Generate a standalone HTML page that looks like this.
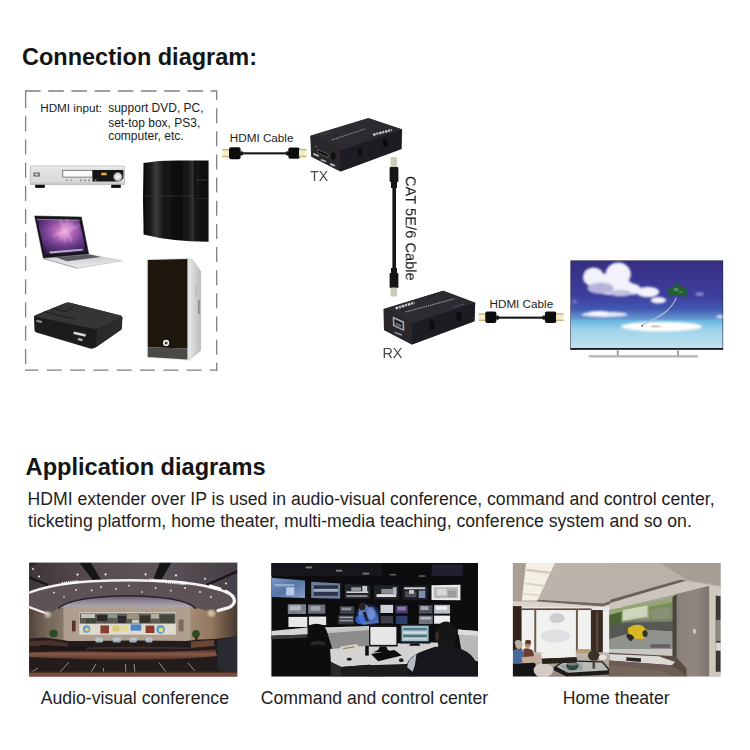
<!DOCTYPE html>
<html lang="en">
<head>
<meta charset="utf-8">
<title>Connection diagram</title>
<style>
html,body{margin:0;padding:0;background:#fff;}
body{width:750px;height:750px;overflow:hidden;position:relative;font-family:"Liberation Sans",Arial,sans-serif;color:#111;}
.t{position:absolute;white-space:nowrap;line-height:1;}
h1.t,h2.t{margin:0;font-weight:bold;font-size:23px;color:#141414;}
.s12{font-size:12px;color:#1c1c1c;}
.lab{font-size:14px;color:#484848;transform:translateZ(0);}
.body{font-size:17.65px;color:#1e1e1e;}
#art{position:absolute;left:0;top:0;width:750px;height:750px;}
</style>
</head>
<body>
<svg id="art" width="750" height="750" viewBox="0 0 750 750">
<defs>
  <filter id="b03" x="-5%" y="-5%" width="110%" height="110%"><feGaussianBlur stdDeviation="0.35"/></filter>
  <filter id="b05" x="-5%" y="-5%" width="110%" height="110%"><feGaussianBlur stdDeviation="0.5"/></filter>
  <filter id="b08" x="-5%" y="-5%" width="110%" height="110%"><feGaussianBlur stdDeviation="0.8"/></filter>
  <filter id="b15" x="-10%" y="-10%" width="120%" height="120%"><feGaussianBlur stdDeviation="1.5"/></filter>
  <filter id="b30" x="-20%" y="-20%" width="140%" height="140%"><feGaussianBlur stdDeviation="3"/></filter>
  <linearGradient id="gold" x1="0" y1="0" x2="0" y2="1">
    <stop offset="0" stop-color="#b09858"/><stop offset="0.2" stop-color="#ece4b0"/><stop offset="0.5" stop-color="#f6f2d8"/><stop offset="0.8" stop-color="#ece4b0"/><stop offset="1" stop-color="#b09858"/>
  </linearGradient>
</defs>
<!-- dashed input group box -->
<g fill="none" stroke="#808080" stroke-width="1.3">
  <path d="M25,91 H216.7" stroke-dasharray="15.6 7.6" stroke-dashoffset="0"/>
  <path d="M216.7,90.4 V370.8" stroke-dasharray="15 8.15" stroke-dashoffset="5.4"/>
  <path d="M25,370.2 H217.2" stroke-dasharray="15 8.3" stroke-dashoffset="1.5"/>
  <path d="M25.6,90.5 V93" />
  <path d="M25.6,92.9 V370.2" stroke-dasharray="15 8.28"/>
</g>

<!-- HDMI cable 1 -->
<g filter="url(#b03)">
  <rect x="222.2" y="149" width="8" height="8.2" fill="url(#gold)"/>
  <rect x="229" y="147.2" width="11.6" height="12" rx="2" fill="#111"/>
  <rect x="240" y="152.3" width="49" height="2.1" fill="#151515"/>
  <rect x="240" y="151.3" width="3" height="4.1" rx="1.2" fill="#151515"/><rect x="286" y="151.3" width="3" height="4.1" rx="1.2" fill="#151515"/>
  <rect x="288.3" y="147.4" width="11.5" height="11.4" rx="2" fill="#111"/>
  <rect x="299" y="149" width="7.5" height="8.2" fill="url(#gold)"/>
</g>
<!-- HDMI cable 2 -->
<g filter="url(#b03)">
  <rect x="478.8" y="313.3" width="7.5" height="7.6" fill="url(#gold)"/>
  <rect x="485.2" y="311.5" width="11.2" height="11.4" rx="2" fill="#111"/>
  <rect x="496" y="316.6" width="49.5" height="2.1" fill="#151515"/>
  <rect x="496" y="315.6" width="3" height="4.1" rx="1.2" fill="#151515"/><rect x="542.4" y="315.6" width="3" height="4.1" rx="1.2" fill="#151515"/>
  <rect x="544.9" y="311.5" width="11.5" height="11.4" rx="2" fill="#111"/>
  <rect x="556" y="313.3" width="7.6" height="7.6" fill="url(#gold)"/>
</g>
<!-- CAT cable -->
<g filter="url(#b03)">
  <rect x="390.6" y="157" width="6.4" height="10.5" rx="0.8" fill="#c9ccbb"/>
  <rect x="389.6" y="167" width="8.8" height="15" rx="1" fill="#141414"/>
  <rect x="391" y="181" width="6" height="7" fill="#141414"/>
  <rect x="392.4" y="187" width="3.6" height="83" fill="#151515"/>
  <rect x="391" y="268" width="6" height="6" fill="#141414"/>
  <rect x="389.6" y="273" width="8.8" height="15" rx="1" fill="#141414"/>
  <rect x="390.6" y="287.5" width="6.4" height="9" rx="0.8" fill="#c9ccbb"/>
</g>
<!-- TX box -->
<g filter="url(#b03)">
  <polygon points="310.7,136 368.4,118.4 401.7,129.6 401.2,148.8 340.6,171.2 311.6,156.4" fill="#242228" stroke="#242228" stroke-width="0.8" stroke-linejoin="round"/>
  <polygon points="310.7,136 368.4,118.4 401.7,129.6 340.4,150.4" fill="#2d2a31"/>
  <polygon points="310.7,136 340.4,150.4 340.6,171.2 311.6,156.4" fill="#29272c"/>
  <polygon points="340.4,150.4 401.7,129.6 401.2,148.8 340.6,171.2" fill="#1e1c22"/>
  <g transform="translate(300,110) scale(0.13333)">
    <path d="M236,226 L490,141" stroke="#b9b9c0" stroke-width="9" stroke-dasharray="7 5" opacity="0.75" fill="none"/>
    <path d="M160,186 L232,163" stroke="#8c8c94" stroke-width="5" stroke-dasharray="5 4" opacity="0.6" fill="none"/>
    <path d="M548,186 L688,150" stroke="#e8e8ee" stroke-width="17" stroke-dasharray="20 6 14 6" opacity="0.85" fill="none"/>
    <rect x="432" y="288" width="34" height="54" rx="8" fill="#0b0a0d"/>
    <rect x="624" y="220" width="32" height="58" rx="8" fill="#0b0a0d"/>
    <polygon points="132,296 212,332 210,356 134,320" fill="#0a0a0c" stroke="#77757c" stroke-width="5"/>
    <ellipse cx="250" cy="344" rx="17" ry="28" fill="#0b0b0d"/>
    <circle cx="119" cy="275" r="6" fill="#6c6a70"/>
    <polygon points="100,322 140,338 140,352 100,336" fill="#d8d8de" opacity="0.85"/>
    <polygon points="156,366 196,380 196,392 156,378" fill="#cfcfd6" opacity="0.8"/>
    <polygon points="226,398 262,410 262,424 226,412" fill="#d8d8de" opacity="0.85"/>
  </g>
</g>
<!-- RX box -->
<g filter="url(#b03)">
  <polygon points="383.7,308.9 443.2,290.8 475.2,302.8 474.4,321.2 412,344.6 384,330" fill="#242228"/>
  <polygon points="383.7,308.9 443.2,290.8 475.2,302.8 412,323.6" fill="#2d2a31"/>
  <polygon points="383.7,308.9 412,323.6 412,344.6 384,330" fill="#29272c"/>
  <polygon points="412,323.6 475.2,302.8 474.4,321.2 412,344.6" fill="#1e1c22"/>
  <g transform="translate(360,270) scale(0.16)">
    <path d="M286,262 L590,180" stroke="#c4c4ca" stroke-width="8" stroke-dasharray="7 5" opacity="0.75" fill="none"/>
    <path d="M222,240 L340,204" stroke="#e8e8ee" stroke-width="15" stroke-dasharray="18 5 12 5" opacity="0.85" fill="none"/>
    <path d="M580,232 L650,212" stroke="#8c8c94" stroke-width="5" opacity="0.5" fill="none"/>
    <rect x="436" y="318" width="30" height="56" rx="8" fill="#0b0a0d"/>
    <rect x="604" y="262" width="30" height="56" rx="8" fill="#0b0a0d"/>
    <polygon points="204,290 276,322 276,382 206,350" fill="#a8a8ae"/>
    <polygon points="214,306 266,330 266,368 216,344" fill="#1c1c20"/>
    <polygon points="222,326 258,342 258,360 224,346" fill="#5c6c70"/>
    <polygon points="216,384 262,402 262,412 216,394" fill="#c0c0c6" opacity="0.7"/>
  </g>
</g>
<!-- TV -->
<defs>
  <linearGradient id="sky" x1="0" y1="0" x2="0" y2="1">
    <stop offset="0" stop-color="#362e82"/>
    <stop offset="0.4" stop-color="#3e3e9e"/>
    <stop offset="0.55" stop-color="#4258b0"/>
    <stop offset="0.66" stop-color="#6496d0"/>
    <stop offset="0.685" stop-color="#6ab6e0"/>
    <stop offset="0.8" stop-color="#a2d4ea"/>
    <stop offset="1" stop-color="#c2e0ee"/>
  </linearGradient>
  <clipPath id="tvclip"><rect x="570.6" y="260.6" width="151" height="87"/></clipPath>
</defs>
<g filter="url(#b03)" transform="translate(570.4,260.4) scale(1.005,1.006) translate(-570,-260)">
  <rect x="570" y="260" width="152" height="88.6" fill="#20244a"/>
  <rect x="570.6" y="260.6" width="150.8" height="86.6" fill="url(#sky)"/>
  <g clip-path="url(#tvclip)">
    <g filter="url(#b08)" fill="#f2f2fa">
      <ellipse cx="593" cy="276.5" rx="10.5" ry="9.5"/>
      <ellipse cx="617.6" cy="273.6" rx="12.5" ry="11.5"/>
      <ellipse cx="606" cy="281" rx="10" ry="8"/>
      <ellipse cx="612" cy="286" rx="21" ry="8.5"/>
      <ellipse cx="631" cy="288.6" rx="9" ry="5.6"/>
      <ellipse cx="600" cy="287.6" rx="13" ry="5.6" fill="#b4b4dc"/>
      <ellipse cx="620" cy="292.6" rx="11" ry="3.4" fill="#c0c0e2"/>
      <ellipse cx="647" cy="291.4" rx="11.5" ry="5.2"/>
      <ellipse cx="657.6" cy="299.6" rx="7.6" ry="3.2"/>
      <ellipse cx="604" cy="313.8" rx="23" ry="2.7" fill="#e2e8f8"/>
      <ellipse cx="598" cy="312.4" rx="10" ry="2.2" fill="#fafaff"/>
      <ellipse cx="660.8" cy="325.8" rx="40.5" ry="4.9" fill="#fdfdfb"/>
      <ellipse cx="719" cy="316" rx="4" ry="1.4" fill="#dfe8f8"/>
      <ellipse cx="698.6" cy="293.4" rx="4.2" ry="1.8" fill="#8e90d0"/>
      <ellipse cx="574" cy="301" rx="3" ry="1.4" fill="#7a80c8"/>
    </g>
    <g filter="url(#b05)">
      <path d="M641.2,324.6 C652,318 668,314 675.6,297" fill="none" stroke="#b4bcd4" stroke-width="1.2"/>
      <g fill="#245e30">
        <ellipse cx="676.6" cy="290.6" rx="6" ry="4.4"/>
        <ellipse cx="671" cy="289" rx="4.6" ry="2.2" transform="rotate(-20 671 289)"/>
        <ellipse cx="682" cy="288.6" rx="4.6" ry="2.2" transform="rotate(20 682 288.6)"/>
        <ellipse cx="676" cy="286" rx="2.4" ry="4" transform="rotate(10 676 286)"/>
        <ellipse cx="682.6" cy="293.4" rx="4.4" ry="2" transform="rotate(28 682.6 293.4)"/>
        <ellipse cx="670.6" cy="293.4" rx="4" ry="1.8" transform="rotate(-30 670.6 293.4)"/>
      </g>
      <ellipse cx="675" cy="289" rx="2.6" ry="1.8" fill="#4c9050"/>
      <ellipse cx="679.6" cy="291.6" rx="2" ry="1.4" fill="#3c8044"/>
      <ellipse cx="655" cy="325.6" rx="5" ry="1.2" fill="#d4cdb8"/>
      <circle cx="641.4" cy="325" r="0.9" fill="#4a4a40"/>
    </g>
  </g>
  <rect x="570" y="347.2" width="152" height="1.5" fill="#15151c"/>
  <rect x="616.2" y="348.6" width="1.8" height="7" fill="#9a9aa0"/>
  <rect x="676.2" y="348.6" width="1.8" height="7" fill="#9a9aa0"/>
  <rect x="588" y="354.3" width="109" height="2.2" rx="1.1" fill="#b4b4b8" filter="url(#b05)"/>
</g>
<!-- DVD player -->
<defs>
  <linearGradient id="dvdg" x1="0" y1="0" x2="0" y2="1">
    <stop offset="0" stop-color="#f4f4f4"/><stop offset="0.15" stop-color="#e2e2e2"/><stop offset="0.8" stop-color="#dcdcdc"/><stop offset="1" stop-color="#c4c4c4"/>
  </linearGradient>
  <linearGradient id="ps3g" x1="0" y1="0" x2="1" y2="0">
    <stop offset="0" stop-color="#0c0c0c"/><stop offset="0.1" stop-color="#161616"/><stop offset="0.2" stop-color="#3c3c3c"/>
    <stop offset="0.3" stop-color="#1a1a1a"/><stop offset="0.55" stop-color="#0a0a0a"/><stop offset="0.7" stop-color="#1c1c1c"/>
    <stop offset="0.76" stop-color="#333"/><stop offset="0.8" stop-color="#151515"/><stop offset="1" stop-color="#0b0b0b"/>
  </linearGradient>
  <radialGradient id="lapg" cx="0.55" cy="0.35" r="0.7">
    <stop offset="0" stop-color="#eaa8dc"/><stop offset="0.25" stop-color="#b868b8"/><stop offset="0.6" stop-color="#6c3c8c"/><stop offset="1" stop-color="#2e1c4e"/>
  </radialGradient>
  <linearGradient id="pcside" x1="0" y1="0" x2="1" y2="0">
    <stop offset="0" stop-color="#ececec"/><stop offset="0.5" stop-color="#d2d2d2"/><stop offset="1" stop-color="#bcbcbc"/>
  </linearGradient>
  <linearGradient id="lapbase" x1="0" y1="0" x2="0" y2="1">
    <stop offset="0" stop-color="#c8c8cc"/><stop offset="1" stop-color="#ececee"/>
  </linearGradient>
</defs>
<g filter="url(#b03)">
  <rect x="30.2" y="166" width="94.4" height="18.6" rx="0.8" fill="url(#dvdg)" stroke="#a4a4a4" stroke-width="0.6"/>
  <rect x="35.2" y="184.8" width="9.6" height="3.1" fill="#111"/>
  <rect x="111.2" y="184.8" width="9.6" height="3.1" fill="#111"/>
  <rect x="33.6" y="172.6" width="6.2" height="3.9" fill="#555"/>
  <rect x="34.8" y="173.6" width="3.8" height="1.9" fill="#d8d8d8"/>
  <rect x="62.8" y="170.3" width="30" height="6.8" fill="#fafafa" stroke="#555" stroke-width="0.7"/>
  <path d="M92.5,170 H123.4 V178 Q121,181.6 116,181.6 H92.5 Z" fill="#121212"/>
  <rect x="101.2" y="172.7" width="5.4" height="2.6" fill="#e8b040"/>
  <circle cx="117.8" cy="176.8" r="4.3" fill="#d4d4d4" stroke="#777" stroke-width="0.6"/>
  <circle cx="117.8" cy="176.8" r="2" fill="#f4f4f4"/>
  <g fill="#8a8a8a"><rect x="66" y="179.4" width="1.4" height="1.6"/><rect x="70.3" y="179.4" width="1.4" height="1.6"/><rect x="79.8" y="179.4" width="1.6" height="2"/><rect x="84.2" y="179.4" width="1.6" height="2"/><rect x="88.2" y="179.4" width="1.6" height="2"/><rect x="94.8" y="179.4" width="1.6" height="2"/></g>
</g>
<!-- PS3 -->
<g filter="url(#b03)">
  <path d="M143.5,163 Q160,160.4 178,160.6 L208.6,160.6 L208.6,241.8 Q170,241.5 143.6,234.6 Q142.4,199 143.5,163 Z" fill="url(#ps3g)"/>
  <rect x="143.4" y="195.6" width="51" height="0.9" fill="#3a3a3a" opacity="0.8"/>
  <rect x="194" y="161" width="0.8" height="37" fill="#000" opacity="0.8"/>
  <rect x="194.4" y="198" width="14" height="0.8" fill="#2c2c2c"/>
  <rect x="196" y="179.6" width="11" height="0.8" fill="#555" opacity="0.7"/>
</g>
<!-- laptop -->
<g filter="url(#b03)">
  <polygon points="43.3,258 88.7,254 122.7,260.2 77.3,267.6" fill="url(#lapbase)"/>
  <polygon points="43.3,258 77.3,267.6 77.3,268.8 43.6,259.2" fill="#a8a8ac"/>
  <polygon points="77.3,267.6 122.7,260.2 122.7,261.2 77.3,268.8" fill="#cdcdd0"/>
  <polygon points="56,257.2 90,254.6 101,257 67,261.2" fill="#5a5a60"/>
  <polygon points="34.7,216 81.3,217.1 88.7,254 43.3,258" fill="#17141c" stroke="#17141c" stroke-width="0.5" stroke-linejoin="round"/>
  <polygon points="37.1,218.9 79.3,219.7 86,251.4 45,254.7" fill="url(#lapg)"/>
  <g opacity="0.4" fill="#f6c8ee" filter="url(#b08)">
    <ellipse cx="66" cy="231" rx="2.2" ry="12" transform="rotate(8 66 231)"/>
    <ellipse cx="66" cy="231" rx="2" ry="12" transform="rotate(38 66 231)"/>
    <ellipse cx="66" cy="231" rx="2" ry="13" transform="rotate(-28 66 231)"/>
    <ellipse cx="66" cy="231" rx="2" ry="14" transform="rotate(68 66 231)"/>
  </g>
  <polygon points="37.1,218.9 79.3,219.7 79.5,220.7 37.3,219.9" fill="#c0b0d0" opacity="0.6"/>
  <polygon points="49.4,251.6 82.6,248.8 83,250.6 49.8,253.6" fill="#cfc8dc" opacity="0.85"/>
</g>
<!-- set top box -->
<g filter="url(#b03)">
  <path d="M34,317.2 Q33.6,315.8 36,315 L65.5,303 Q67.5,302.2 70,302.8 L120.5,315.6 Q122.6,316.2 122.4,318 L121.8,328 Q121.6,329.6 120,330.6 L95.5,347.6 Q93,349.2 90,348.6 L36.5,332.6 Q34.6,332 34.5,330 Z" fill="#1b1b1c"/>
  <path d="M34.2,316.6 Q34,315.6 36,314.9 L65.5,303 Q67.5,302.2 70,302.8 L120.5,315.6 Q122.6,316.2 121.5,317.2 L98,328.8 Q96.5,329.4 94.5,329 Z" fill="#343436"/>
  <path d="M97.2,329.2 L122.2,317 L121.8,328 Q121.6,329.6 120,330.6 L95.5,347.6 Z" fill="#2a2a2b"/>
  <path d="M44,311.6 L75,319.2 M52,308.4 L66,311.6 L74,306" fill="none" stroke="#1c1c1c" stroke-width="0.9"/>
  <rect x="73.4" y="332.6" width="12.4" height="2.6" fill="#d8d8d8" transform="rotate(13 79 334)"/>
  <rect x="78" y="338.4" width="4.6" height="2.2" fill="#bbb" transform="rotate(13 80 339)"/>
  <rect x="36.4" y="320.2" width="5.6" height="2.2" fill="#888" transform="rotate(15 39 321)"/>
</g>
<!-- PC tower -->
<g filter="url(#b03)">
  <polygon points="188,258.4 192.5,259.6 200.8,271.5 200.8,350.6 188.2,360.4" fill="url(#pcside)" stroke="#b4b4b4" stroke-width="0.5"/>
  <polygon points="146.6,259 188.4,258 188.4,360.6 146.6,357.8" fill="#e4e4e4"/>
  <polygon points="147.8,259.9 187.4,259 187.4,348.4 147.8,347.2" fill="#1b1311"/>
  <polygon points="147.8,347.2 187.4,348.4 187.4,359.6 147.8,357" fill="#4a4844"/>
  <circle cx="166.1" cy="342.9" r="3.1" fill="#f4f4f4"/>
  <circle cx="166.1" cy="342.9" r="1.5" fill="#333"/>
  <rect x="198" y="300" width="1.6" height="14" fill="#888"/>
  <rect x="195.6" y="285" width="1" height="12" fill="#b0b0b0"/>
</g>
<!-- photo 1: audio-visual conference -->
<defs>
  <clipPath id="p1c"><rect x="29.2" y="562.7" width="208" height="113.9"/></clipPath>
  <linearGradient id="p1ceil" x1="0" y1="0" x2="1" y2="0">
    <stop offset="0" stop-color="#3c3438"/><stop offset="0.3" stop-color="#564c50"/><stop offset="0.6" stop-color="#5c5458"/><stop offset="1" stop-color="#443e46"/>
  </linearGradient>
  <linearGradient id="p1dome" x1="0" y1="0" x2="0" y2="1">
    <stop offset="0" stop-color="#5c5460"/><stop offset="0.35" stop-color="#88808e"/><stop offset="0.8" stop-color="#aca4ac"/><stop offset="1" stop-color="#ae9f8e"/>
  </linearGradient>
  <linearGradient id="p1table" x1="0" y1="0" x2="0" y2="1">
    <stop offset="0" stop-color="#4e2e28"/><stop offset="0.45" stop-color="#885846"/><stop offset="1" stop-color="#54322a"/>
  </linearGradient>
  <linearGradient id="p1lwall" x1="0" y1="0" x2="1" y2="0">
    <stop offset="0" stop-color="#4a3c36"/><stop offset="0.5" stop-color="#75655a"/><stop offset="1" stop-color="#8a7a6c"/>
  </linearGradient>
  <linearGradient id="p1rwall" x1="0" y1="0" x2="1" y2="0">
    <stop offset="0" stop-color="#a48c74"/><stop offset="0.45" stop-color="#94785e"/><stop offset="0.75" stop-color="#64503f"/><stop offset="1" stop-color="#3c3030"/>
  </linearGradient>
</defs>
<g clip-path="url(#p1c)">
 <rect x="29" y="562" width="209" height="115" fill="#4a4246"/>
 <g filter="url(#b05)">
  <rect x="26" y="560" width="214" height="50" fill="url(#p1ceil)"/>
  <!-- beams -->
  <polygon points="78.7,562 90.4,562 101.8,581 93.6,581" fill="#191518"/>
  <polygon points="160.1,562 171.8,562 160.6,581 152.6,581" fill="#191518"/>
  <polygon points="28,575.6 48,583.8 48,586 28,578.4" fill="#1c181a"/>
  <polygon points="238,569.6 206,584 206,586.4 238,572.6" fill="#1c181a"/>
  <polygon points="28,562 40,562 28,568" fill="#2a2428"/>
  <!-- walls -->
  <rect x="26" y="600" width="40" height="48" fill="url(#p1lwall)"/>
  <rect x="188" y="598" width="52" height="52" fill="url(#p1rwall)"/>
  <rect x="63.5" y="600" width="127" height="44" fill="#ae9f8e"/>
  <!-- ceiling disc -->
  <path d="M26,593.4 C42,586.8 62,583 92,581 C120,579.6 150,579.8 176,581.6 C204,584.4 224,589.4 233.4,596 C238,603 228,609 214,612 L196,608 C190,601 160,596 127,595.7 C95,596 68,600 58,608 L48,614.6 C40,612 32,609 26,606 Z" fill="#5d5357"/>
  <!-- dome interior -->
  <path d="M58.5,608.6 C66,600 96,596 127,595.7 C160,596 188,600 196,608.8 L190,607 L64,607 Z" fill="url(#p1dome)"/>
  <path d="M58.5,608.6 C66,600 96,596 127,595.7 C160,596 188,600 196,608.8" fill="none" stroke="#2c2428" stroke-width="1.6"/>
  <!-- LED ring -->
  <path d="M27,593.6 C42,587 62,583.2 92,581.2 C120,579.8 150,580 176,581.8 C204,584.6 224,589.6 233.2,596" fill="none" stroke="#f4f0f4" stroke-width="2.5" stroke-linecap="round"/>
  <path d="M226,591.4 C235,596 238,603 229,607.6 L218,610.6" fill="none" stroke="#f6f2f2" stroke-width="3.2" stroke-linecap="round"/>
  <path d="M166,581.6 L186,583.4" stroke="#fff" stroke-width="3.4" stroke-dasharray="1.2 0.9"/>
  <path d="M209,586 L221,589.4" stroke="#fff" stroke-width="3.4"/>
  <path d="M27,606.4 C34,609 41,611.6 48,614" fill="none" stroke="#f0ecec" stroke-width="2.2" stroke-linecap="round"/>
  <path d="M62,583.6 L79,581.6 M150,580.2 L166,581.2" stroke="#fff" stroke-width="3.2" stroke-dasharray="1.2 0.9"/>
  <!-- spot lights -->
  <g fill="#f2eef2">
   <circle cx="77.5" cy="574.6" r="1.1"/><circle cx="105.6" cy="574.4" r="1.1"/><circle cx="145.6" cy="574.4" r="1.1"/><circle cx="176" cy="575.4" r="1.1"/><circle cx="205" cy="578.8" r="1"/><circle cx="226" cy="583.6" r="1"/>
   <circle cx="54" cy="592.6" r="0.9"/><circle cx="76" cy="590" r="0.9"/><circle cx="91.6" cy="590.4" r="0.9"/><circle cx="101" cy="587" r="0.9"/><circle cx="116" cy="588.8" r="0.9"/><circle cx="129" cy="585.6" r="0.9"/>
   <circle cx="155.6" cy="588" r="0.9"/><circle cx="171" cy="590.6" r="0.9"/><circle cx="185" cy="588" r="0.9"/><circle cx="200" cy="592" r="0.9"/><circle cx="211" cy="597" r="0.9"/><circle cx="142" cy="592" r="0.8"/><circle cx="64" cy="597" r="0.8"/><circle cx="39" cy="576.6" r="1"/><circle cx="33" cy="569" r="0.9"/>
  </g>
  <circle cx="47.8" cy="614.6" r="3.4" fill="#cdbfae" opacity="0.8" filter="url(#b08)"/>
  <circle cx="211.4" cy="613.2" r="3.6" fill="#d8c6a8" opacity="0.9" filter="url(#b08)"/>
  <!-- door panels -->
  <rect x="72" y="620.6" width="3.6" height="10.8" fill="#5a332a"/>
  <rect x="178.8" y="619.6" width="5" height="11.6" fill="#7c6c5c" stroke="#9c8c7c" stroke-width="0.5"/>
  <!-- video wall -->
  <rect x="79.3" y="612.3" width="96.6" height="22.4" fill="#dedacf"/>
  <rect x="79.8" y="613.4" width="95.6" height="10.2" fill="#5c5a50"/>
  <g filter="url(#b03)">
   <rect x="81" y="614" width="14" height="4" fill="#c4c4b8"/><rect x="97" y="615" width="10" height="6" fill="#2c2c2c"/><rect x="108" y="614" width="9" height="4" fill="#8a9a8a"/><rect x="118" y="616" width="8" height="7" fill="#2a2a2e"/>
   <rect x="127" y="614" width="12" height="5" fill="#9c9080"/><rect x="140" y="615.6" width="10" height="7" fill="#34302e"/><rect x="151" y="614" width="8" height="4.6" fill="#b4b0a0"/><rect x="160" y="615" width="14" height="7.6" fill="#44463e"/>
   <rect x="86" y="618.6" width="10" height="4.6" fill="#3c4a3c"/><rect x="132" y="619.6" width="7" height="3.6" fill="#c8c8c0"/>
   <circle cx="86.6" cy="629" r="3.7" fill="#5c9cc8"/><circle cx="87" cy="629.6" r="2" fill="#e4d070"/>
   <rect x="100.4" y="625.4" width="8.6" height="8" fill="#8c3c30"/>
   <rect x="112.5" y="625.6" width="7" height="5.6" fill="#d9c76c"/><rect x="121" y="625.6" width="7" height="5.6" fill="#e4d88a"/>
   <rect x="130.6" y="624.4" width="10.6" height="6.2" fill="#4c84c4"/>
   <rect x="145.6" y="625.6" width="8.8" height="7.4" fill="#8a3a2e"/>
   <circle cx="160.6" cy="629.4" r="4.3" fill="#5aa0cc"/><circle cx="161" cy="630" r="2.3" fill="#e8d878"/>
  </g>
  <!-- plants -->
  <ellipse cx="53.6" cy="633.4" rx="4.2" ry="4" fill="#2e4c24"/>
  <ellipse cx="196" cy="634" rx="3.8" ry="4" fill="#2e4c24"/>
  <rect x="195" y="637" width="2.4" height="4" fill="#3a2a20"/>
  <!-- furniture -->
  <path d="M26,639 L44,637.5 L69,641 L86,641 L135,640.4 L186,641 L200,639.4 L215,639 L240,636 L240,680 L26,680 Z" fill="#241a1a"/>
  <g fill="#bccde0" opacity="0.8"><rect x="95.4" y="637.6" width="7.6" height="5" rx="1.4"/><rect x="112.8" y="637.6" width="8" height="5" rx="1.4"/><rect x="129.4" y="637.6" width="7.4" height="5" rx="1.4"/><rect x="145.6" y="637.6" width="6.8" height="5" rx="1.4"/></g>
  <path d="M26,641.4 L50,640 L68,643.4 L68,647 L26,646 Z" fill="#4c3028"/>
  <path d="M191,641.6 L214,640 L214,646 L191,648 Z" fill="#6c4434"/>
  <path d="M40,645 L68,646.4 L86,646 L86,650 L40,650 Z" fill="#1c1616"/>
  <path d="M26,652.6 C60,650.6 100,651.6 132,652 C165,652 195,651.2 215,649.6 L217,656 C190,659 160,659.6 132,659.6 C95,659.8 60,658.6 26,657 Z" fill="url(#p1table)"/>
  <path d="M86,647.4 L135,646.6 L190,647.4 L190,649 L135,648.4 L86,649 Z" fill="#5c3a30" opacity="0.6"/>
  <path d="M217,640 L238,636 L238,672 L218,670 Z" fill="#2a2a32"/>
  <g stroke="#b4b4b8" stroke-width="0.9" opacity="0.85">
   <line x1="69" y1="662" x2="60" y2="672"/><line x1="96" y1="664" x2="90.6" y2="673"/><line x1="103.4" y1="668" x2="104" y2="673.6"/><line x1="125.4" y1="664" x2="126" y2="673.4"/><line x1="134" y1="664" x2="135" y2="673.4"/>
   <line x1="159" y1="662.6" x2="166" y2="672"/><line x1="188" y1="663" x2="195" y2="671"/><line x1="38" y1="668" x2="31" y2="672.4"/>
  </g>
  <rect x="26" y="672.4" width="214" height="6" fill="#7a4c3a"/>
  <rect x="26" y="671.4" width="214" height="1.4" fill="#4a2e26" opacity="0.7"/>
 </g>
</g>
<!-- photo 2: command and control center -->
<defs>
  <clipPath id="p2c"><rect x="271.4" y="563" width="206.6" height="113.4"/></clipPath>
  <linearGradient id="p2m1" x1="0" y1="0" x2="1" y2="1">
    <stop offset="0" stop-color="#7c9cc8"/><stop offset="0.5" stop-color="#5474a4"/><stop offset="1" stop-color="#8aa2c4"/>
  </linearGradient>
  <radialGradient id="p2glow" cx="0.5" cy="0.5" r="0.5">
    <stop offset="0" stop-color="#5a8ae0" stop-opacity="0.95"/><stop offset="0.6" stop-color="#3050a0" stop-opacity="0.6"/><stop offset="1" stop-color="#203060" stop-opacity="0"/>
  </radialGradient>
</defs>
<g clip-path="url(#p2c)">
 <rect x="271" y="562.5" width="208" height="115" fill="#0d0d10"/>
 <g filter="url(#b05)">
  <!-- ===== left half in zoom coords ===== -->
  <g transform="translate(265,558) scale(0.16267)">
   <rect x="30" y="30" width="690" height="80" fill="#15151a"/>
   <rect x="250" y="52" width="40" height="12" fill="#77777c"/><rect x="435" y="72" width="40" height="12" fill="#77777c"/><rect x="600" y="90" width="40" height="12" fill="#77777c"/>
   <!-- top row -->
   <polygon points="36,122 246,138 246,246 36,240" fill="url(#p2m1)"/>
   <rect x="130" y="180" width="50" height="50" fill="#b9c9e4"/><rect x="60" y="160" width="120" height="14" fill="#a8b8d8" opacity="0.8"/>
   <polygon points="284,146 462,156 462,250 284,246" fill="#6c7c9c"/>
   <rect x="300" y="168" width="148" height="22" fill="#2a2e40"/><rect x="300" y="208" width="148" height="24" fill="#2e3244"/><rect x="300" y="190" width="148" height="16" fill="#a4b0c8"/>
   <polygon points="490,160 646,168 646,252 490,250" fill="#23252c"/>
   <rect x="500" y="205" width="135" height="10" fill="#d4d4d8"/><rect x="530" y="180" width="60" height="22" fill="#9a9ca4"/><rect x="598" y="172" width="30" height="40" fill="#c4c6cc"/><rect x="500" y="228" width="130" height="12" fill="#8c8e94"/>
   <polygon points="670,166 720,168 720,254 670,252" fill="#1e2026"/><rect x="684" y="222" width="40" height="18" fill="#e4e4e8"/>
   <!-- second row -->
   <rect x="140" y="284" width="112" height="60" fill="#7c8088"/><rect x="150" y="292" width="70" height="30" fill="#b4b8c0"/>
   <rect x="264" y="286" width="106" height="56" fill="#6c7078"/><rect x="280" y="296" width="60" height="28" fill="#a0a4ac"/>
   <rect x="460" y="296" width="88" height="48" fill="#3c4048"/><rect x="470" y="304" width="60" height="18" fill="#8a8e96"/>
   <!-- third row -->
   <rect x="144" y="362" width="116" height="62" fill="#e8e8e8"/>
   <rect x="270" y="360" width="106" height="52" fill="#e4e4e6"/>
   <rect x="450" y="352" width="98" height="56" fill="#353942"/><rect x="458" y="360" width="82" height="10" fill="#a4a8b0"/><rect x="458" y="380" width="82" height="10" fill="#9498a0"/>
   <!-- standing person w/ blue glow -->
   <ellipse cx="630" cy="350" rx="85" ry="75" fill="url(#p2glow)" opacity="0.8"/>
   <path d="M580,300 Q600,270 625,290 L650,310 Q700,330 700,400 L600,410 Q560,380 580,300 Z" fill="#5c7cc0"/>
   <ellipse cx="598" cy="298" rx="20" ry="24" fill="#2a221e"/>
   <ellipse cx="585" cy="380" rx="30" ry="28" fill="#3c6ce0" opacity="0.8"/>
   <rect x="610" y="330" width="20" height="60" fill="#1c1c28" transform="rotate(-20 620 360)"/>
   <!-- desk far -->
   <polygon points="36,448 260,428 400,425 640,418 640,440 400,450 260,470 36,478" fill="#d4d4d4"/>
   <polygon points="36,478 260,470 260,490 36,500" fill="#3a3a3a"/>
   <!-- partition -->
   <polygon points="380,452 640,432 640,560 420,580" fill="#8c8c8c"/>
   <polygon points="380,440 640,420 640,442 380,462" fill="#c4c4c4"/>
   <!-- right monitor edge (monitor 1 lives in right half) -->
   <!-- chair -->
   <path d="M262,420 Q300,395 350,410 Q385,430 390,500 L400,560 Q405,640 370,660 L300,670 Q265,650 262,560 Z" fill="#0e0e10"/>
   <path d="M280,520 Q320,500 370,520 L365,540 Q320,525 284,540 Z" fill="#2c2c30"/>
   <!-- near desk -->
   <polygon points="400,560 640,540 720,545 720,650 470,670 405,640" fill="#d4d4d4"/>
   <polygon points="405,640 470,670 470,728 405,728" fill="#2a2a2a"/>
   <polygon points="470,670 720,650 720,728 470,728" fill="#1a1a1c"/>
   <polygon points="500,690 720,672 720,728 500,728" fill="#9c9c9c" opacity="0.0"/>
   <!-- phone -->
   <polygon points="460,545 560,528 600,560 490,585" fill="#d8d4c4"/>
   <rect x="480" y="548" width="70" height="8" fill="#88857a" transform="rotate(-9 515 552)"/>
   <ellipse cx="518" cy="622" rx="16" ry="9" fill="#1a1a1a"/>
   <rect x="616" y="540" width="22" height="60" fill="#111"/>
  </g>
  <!-- ===== right half in zoom coords ===== -->
  <g transform="translate(370,558) scale(0.16267)">
   <rect x="380" y="40" width="190" height="70" fill="#2a2840" opacity="0.7"/>
   <rect x="120" y="98" width="40" height="10" fill="#5c5c64"/><rect x="300" y="106" width="40" height="10" fill="#5c5c64"/>
   <!-- top row -->
   <polygon points="24,168 176,166 176,256 24,254" fill="#1e2026"/>
   <rect x="40" y="222" width="120" height="18" fill="#e0e0e4"/><rect x="70" y="190" width="70" height="30" fill="#8c8e96"/><rect x="140" y="180" width="24" height="50" fill="#b4b6bc"/>
   <polygon points="198,170 356,168 356,258 198,256" fill="#1c1e26"/>
   <rect x="210" y="180" width="130" height="12" fill="#cfcfd4"/><rect x="300" y="200" width="40" height="46" fill="#7c8cb0"/><rect x="215" y="205" width="70" height="36" fill="#4c4e58"/><rect x="240" y="196" width="30" height="24" fill="#c4c4c8"/>
   <polygon points="378,168 556,164 556,260 378,258" fill="#e9e9e9"/>
   <rect x="394" y="180" width="146" height="66" fill="#b4b4b4"/><rect x="410" y="190" width="60" height="40" fill="#d8d8d8"/><rect x="480" y="200" width="50" height="40" fill="#9c9c9c"/>
   <!-- second row -->
   <rect x="64" y="288" width="78" height="50" fill="#d0d0d8"/>
   <rect x="158" y="292" width="74" height="48" fill="#4c3c6c"/><rect x="170" y="300" width="50" height="22" fill="#8c7cb0"/>
   <rect x="234" y="296" width="58" height="100" fill="#08080a"/>
   <rect x="300" y="290" width="84" height="52" fill="#4c5058"/><rect x="310" y="296" width="50" height="24" fill="#a4a8b0"/>
   <rect x="394" y="288" width="98" height="54" fill="#b8bcc4"/><rect x="404" y="296" width="70" height="22" fill="#eeeeee"/>
   <!-- third row -->
   <rect x="66" y="356" width="76" height="46" fill="#3c4048"/>
   <rect x="160" y="356" width="70" height="50" fill="#2c3c6c"/>
   <rect x="300" y="354" width="86" height="52" fill="#70747c"/><rect x="310" y="362" width="66" height="16" fill="#b4b8c0"/>
   <rect x="394" y="354" width="98" height="50" fill="#eeeeee"/>
   <!-- blue glow continuing -->
   <ellipse cx="14" cy="350" rx="50" ry="70" fill="url(#p2glow)" opacity="0.8"/>
   <ellipse cx="6" cy="340" rx="24" ry="40" fill="#7c98d4" opacity="0.7"/>
   <!-- desk surfaces -->
   <polygon points="0,540 230,520 420,520 420,660 0,660" fill="#d2d2d2"/>
   <polygon points="540,440 680,450 680,640 600,620 560,560" fill="#b9b9b9"/>
   <polygon points="540,440 680,450 680,480 540,470" fill="#dcdcdc"/>
   <polygon points="0,660 260,650 260,728 0,728" fill="#1c1c1e"/>
   <!-- desktop monitor 1 -->
   <rect x="-6" y="416" width="176" height="128" fill="#141416"/>
   <rect x="2" y="424" width="160" height="110" fill="#e6e6e4"/>
   <polygon points="60,544 100,544 110,566 140,580 20,580 50,566" fill="#0c0c0e"/>
   <!-- desktop monitor 2 -->
   <rect x="184" y="406" width="186" height="120" fill="#16161a"/>
   <rect x="194" y="416" width="166" height="96" fill="#9cc0c8"/>
   <rect x="204" y="430" width="146" height="14" fill="#5c7888"/><rect x="204" y="452" width="146" height="12" fill="#d4e0e0"/><rect x="204" y="472" width="146" height="14" fill="#54707c"/><rect x="204" y="492" width="146" height="10" fill="#c4d4d4"/>
   <polygon points="250,526 300,526 310,540 240,540" fill="#0c0c0e"/>
   <!-- keyboard -->
   <polygon points="6,590 150,566 196,600 50,634" fill="#0e0e10"/>
   <ellipse cx="192" cy="628" rx="14" ry="12" fill="#1c1c1e"/>
   <!-- seated person -->
   <path d="M230,728 L225,660 Q240,600 330,570 L400,545 L520,545 Q610,570 640,620 L665,690 L665,728 Z" fill="#17171a"/>
   <path d="M225,660 Q240,600 330,570 L300,640 L290,728 L230,728 Z" fill="#e4e4e8" opacity="0.0"/>
   <path d="M228,672 Q232,622 286,592 L276,660 L262,700 Z" fill="#d4d8e0" opacity="0.85"/>
   <ellipse cx="468" cy="470" rx="66" ry="80" fill="#151414"/>
   <rect x="420" y="520" width="100" height="50" fill="#1a1818"/>
   <ellipse cx="412" cy="480" rx="12" ry="30" fill="#3a2c26"/>
  </g>
 </g>
</g>
<!-- photo 3: home theater -->
<defs>
  <clipPath id="p3c"><rect x="512.9" y="563" width="207.6" height="113.4"/></clipPath>
  <linearGradient id="p3ceil" x1="0" y1="0" x2="1" y2="1">
    <stop offset="0" stop-color="#c4bcb0"/><stop offset="0.5" stop-color="#aca49a"/><stop offset="1" stop-color="#8c847c"/>
  </linearGradient>
  <linearGradient id="p3wall" x1="0" y1="0" x2="1" y2="0">
    <stop offset="0" stop-color="#8a807a"/><stop offset="0.6" stop-color="#91877f"/><stop offset="1" stop-color="#7c726c"/>
  </linearGradient>
  <linearGradient id="p3floor" x1="0" y1="0" x2="0" y2="1">
    <stop offset="0" stop-color="#c4bcb4"/><stop offset="1" stop-color="#8c8078"/>
  </linearGradient>
  <linearGradient id="p3scr" x1="0" y1="0" x2="0" y2="1">
    <stop offset="0" stop-color="#8ca464"/><stop offset="0.3" stop-color="#b0ba98"/><stop offset="0.42" stop-color="#6a6e66"/><stop offset="0.55" stop-color="#868882"/><stop offset="0.8" stop-color="#a4a4a0"/><stop offset="1" stop-color="#d8d8d4"/>
  </linearGradient>
</defs>
<g clip-path="url(#p3c)">
 <rect x="512" y="562.5" width="209" height="115" fill="#aaa29a"/>
 <g filter="url(#b05)">
  <!-- ===== left half in zoom coords ===== -->
  <g transform="translate(505,558) scale(0.16267)">
   <rect x="40" y="25" width="680" height="280" fill="url(#p3ceil)"/>
   <polygon points="40,25 130,25 100,290 40,290" fill="#a89e92"/>
   <polygon points="130,25 310,25 200,262 104,262" fill="#f4f0e4"/>
   <polygon points="134,66 296,86 286,100 130,80" fill="#c8c0b0" opacity="0.8"/>
   <polygon points="122,150 252,166 246,178 120,162" fill="#d0c8b8" opacity="0.7"/>
   <polygon points="112,214 222,226 218,236 110,224" fill="#d4ccbc" opacity="0.7"/>
   <polygon points="320,25 720,25 720,250 600,284 200,262" fill="#bcb4aa"/>
   <polygon points="200,256 600,280 720,244 720,262 600,298 196,268" fill="#6e665e"/>
   <polygon points="40,266 196,268 600,298 720,262 720,310 40,310" fill="#d8d2c8"/>
   <!-- window wall -->
   <rect x="40" y="300" width="680" height="300" fill="#e6e6e4"/>
   <rect x="40" y="296" width="62" height="300" fill="#32241c"/>
   <rect x="100" y="310" width="432" height="12" fill="#5a4a3e"/>
   <rect x="104" y="320" width="426" height="262" fill="#f1f1ef"/>
   <rect x="180" y="316" width="12" height="266" fill="#6a5a4c"/>
   <rect x="436" y="316" width="12" height="266" fill="#6a5a4c"/>
   <ellipse cx="320" cy="370" rx="46" ry="30" fill="#c4c4c8" opacity="0.8"/>
   <ellipse cx="310" cy="480" rx="90" ry="40" fill="#dcdce0" opacity="0.8"/>
   <rect x="528" y="320" width="74" height="270" fill="#3a2c24"/>
   <rect x="560" y="330" width="14" height="250" fill="#5a4a40"/>
   <rect x="602" y="330" width="50" height="260" fill="#eeeeea"/>
   <!-- floor -->
   <rect x="40" y="580" width="680" height="160" fill="url(#p3floor)"/>
   <rect x="440" y="560" width="90" height="26" fill="#b49c7c"/>
   <!-- bench -->
   <polygon points="222,580 430,574 440,612 226,622" fill="#efefeb"/>
   <polygon points="226,620 440,610 440,636 230,646" fill="#26221f"/>
   <!-- people -->
   <ellipse cx="86" cy="534" rx="22" ry="26" fill="#c8a890"/>
   <ellipse cx="80" cy="520" rx="20" ry="16" fill="#b4b0a8"/>
   <path d="M46,570 Q80,548 112,570 L130,640 L46,650 Z" fill="#4a6a9c"/>
   <ellipse cx="140" cy="528" rx="19" ry="24" fill="#b88c70"/>
   <ellipse cx="142" cy="516" rx="18" ry="14" fill="#5a3a28"/>
   <path d="M112,560 Q146,545 172,570 L180,610 L120,620 Z" fill="#6c3c30"/>
   <polygon points="100,610 220,600 230,640 110,650" fill="#c4ac98"/>
   <!-- sofa -->
   <path d="M40,650 L180,644 Q196,650 194,728 L40,728 Z" fill="#131315"/>
   <ellipse cx="236" cy="690" rx="60" ry="44" fill="#d4ccc4"/>
   <!-- coffee table -->
   <polygon points="300,672 360,628 600,634 652,694 640,716 380,730 300,690" fill="#1f1c1a"/>
   <polygon points="318,668 366,636 596,642 636,690 386,706" fill="#b9bab6"/>
   <polygon points="330,660 470,644 480,690 380,700" fill="#8ea09c" opacity="0.8"/>
   <ellipse cx="414" cy="664" rx="38" ry="26" fill="#34443e"/>
   <ellipse cx="414" cy="652" rx="30" ry="10" fill="#70867e"/>
   <polygon points="226,620 440,610 442,642 230,652" fill="#26221f"/>
   <!-- plant/vase -->
   <ellipse cx="546" cy="600" rx="36" ry="32" fill="#3a3228"/>
   <rect x="538" y="630" width="16" height="50" fill="#4c443c"/>
   <ellipse cx="600" cy="610" rx="24" ry="16" fill="#e8e4dc"/>
  </g>
  <!-- ===== right half in zoom coords ===== -->
  <g transform="translate(610,558) scale(0.16267)">
   <polygon points="0,25 690,25 690,180 420,140 0,270" fill="#b0a89e"/>
   <polygon points="0,25 300,25 470,130 0,262" fill="#bab2a8"/>
   <polygon points="300,25 690,25 690,170 470,130" fill="#a69e95"/>
   <polygon points="0,256 430,134 470,140 0,276" fill="#6a625a"/>
   <polygon points="0,276 470,140 690,176 690,200 410,222 0,318" fill="#cbc5bc"/>
   <!-- right wall -->
   <polygon points="408,222 612,170 612,728 408,728" fill="url(#p3wall)"/>
   <rect x="512" y="438" width="14" height="26" fill="#e0dcd8"/>
   <!-- door frame -->
   <polygon points="610,168 690,180 690,728 610,728" fill="#cfc8be"/>
   <polygon points="650,230 690,236 690,700 650,700" fill="#3a3430"/>
   <rect x="650" y="380" width="40" height="130" fill="#8c8880"/>
   <rect x="650" y="520" width="40" height="50" fill="#d8d8d4"/>
   <!-- screen -->
   <polygon points="-4,318 386,246 386,602 -4,582" fill="url(#p3scr)"/>
   <polygon points="-4,318 386,246 386,330 240,360 100,390 -4,400" fill="#95a674"/>
   <polygon points="80,320 230,292 230,360 80,384" fill="#d4dac4" opacity="0.9"/>
   <polygon points="240,300 384,270 384,380 240,390" fill="#748858" opacity="0.85"/>
   <polygon points="250,320 370,300 370,372 250,380" fill="#8c9078" opacity="0.8"/>
   <polygon points="-4,350 70,330 70,400 -4,420" fill="#4c6434"/>
   <polygon points="-4,420 90,400 386,392 386,452 200,440 -4,500" fill="#555852"/>
   <polygon points="-4,500 200,440 386,452 386,560 -4,560" fill="#90928e"/>
   <polygon points="-4,560 386,560 386,602 -4,582" fill="#c8c8c4"/>
   <path d="M112,430 Q150,400 200,416 L232,450 Q236,480 200,500 L140,494 Q100,470 112,430 Z" fill="#d8b820"/>
   <path d="M100,470 Q130,460 150,490 L130,512 Q104,500 100,470 Z" fill="#2c2c28"/>
   <ellipse cx="216" cy="464" rx="16" ry="22" fill="#33332e"/>
   <rect x="250" y="530" width="120" height="22" fill="#5c4c5c" opacity="0.8"/>
   <polygon points="384,240 410,222 410,612 384,604" fill="#4a443e"/>
   <!-- console + floor -->
   <polygon points="-4,582 386,602 410,612 470,680 470,728 -4,728" fill="#5a4c44"/>
   <polygon points="-4,590 300,604 400,640 380,660 -4,630" fill="#dcdad6"/>
   <polygon points="-4,630 380,660 480,728 -4,728" fill="#6c5c52"/>
   <polygon points="100,610 190,616 190,640 100,632" fill="#2c2826"/>
   <polygon points="-4,660 300,690 400,728 -4,728" fill="#75665c"/>
  </g>
 </g>
</g>
</svg>
<h1 class="t" id="title" style="left:22px;top:45.6px;font-size:23.5px;">Connection diagram:</h1>
<div class="t s12" id="hin" style="left:40.2px;top:102px;font-size:11.7px;">HDMI input:</div>
<div class="t s12" id="sup1" style="left:108.2px;top:101.8px;">support DVD, PC,</div>
<div class="t s12" id="sup2" style="left:108.2px;top:117.3px;">set-top box, PS3,</div>
<div class="t s12" id="sup3" style="left:108.2px;top:129.9px;">computer, etc.</div>
<div class="t s12" id="hc1" style="left:229.8px;top:132.1px;font-size:11.7px;">HDMI Cable</div>
<div class="t lab" id="tx" style="left:310.3px;top:168.8px;">TX</div>
<div class="t" id="cat" style="left:402.6px;top:176px;font-size:14.7px;transform-origin:0 0;transform:rotate(90deg) translateY(-100%) translateZ(0);">CAT 5E/6 Cable</div>
<div class="t lab" id="rx" style="left:382.4px;top:345.5px;font-size:14.4px;">RX</div>
<div class="t s12" id="hc2" style="left:489.5px;top:297.8px;font-size:11.7px;">HDMI Cable</div>
<h2 class="t" id="app" style="left:25.6px;top:456.2px;font-size:23.6px;">Application diagrams</h2>
<div class="t body" id="p1" style="left:27.5px;top:490.7px;">HDMI extender over IP is used in audio-visual conference, command and control center,</div>
<div class="t body" id="p2" style="left:28px;top:513.1px;">ticketing platform, home theater, multi-media teaching, conference system and so on.</div>
<div class="t body" id="c1" style="left:40.7px;top:690.3px;">Audio-visual conference</div>
<div class="t body" id="c2" style="left:260.7px;top:690.3px;">Command and control center</div>
<div class="t body" id="c3" style="left:562.8px;top:690.3px;">Home theater</div>
</body>
</html>
